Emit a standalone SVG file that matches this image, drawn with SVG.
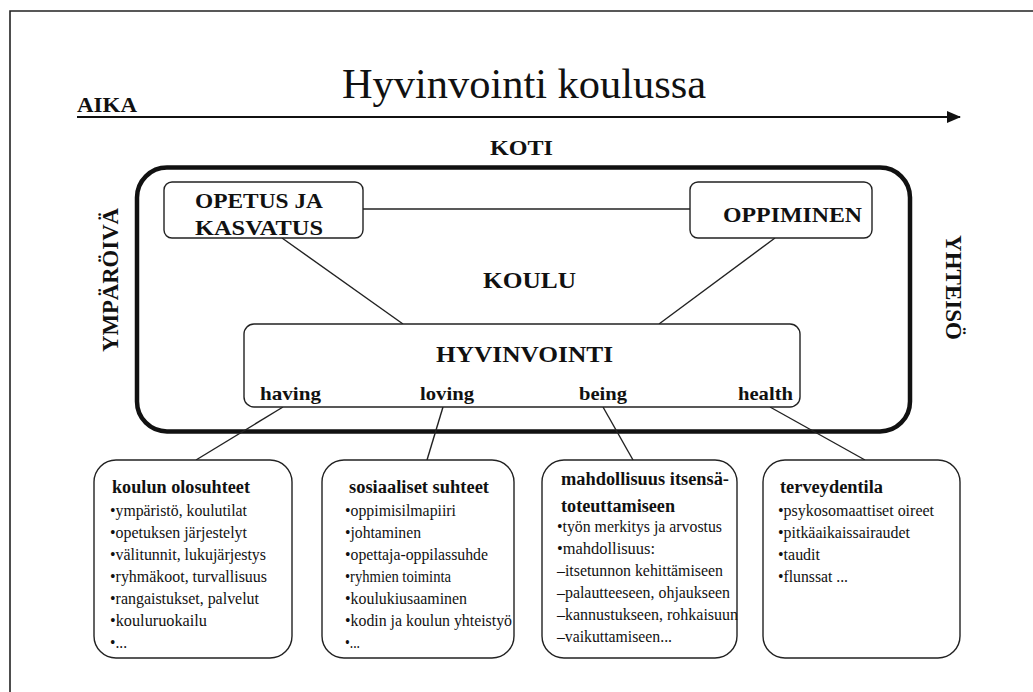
<svg xmlns="http://www.w3.org/2000/svg" width="1033" height="692" viewBox="0 0 1033 692">
<style>
  .b{font-family:"Liberation Serif","Times New Roman",serif;font-weight:bold;fill:#111}
  .r{font-family:"Liberation Serif","Times New Roman",serif;fill:#111}
  .box{fill:#fff;stroke:#222;stroke-width:1.4}
  .ln{stroke:#222;stroke-width:1.4;fill:none}
  .it{font-size:16px}
  .ti{font-size:18px}
</style>
<defs>
  <marker id="ah" markerWidth="14" markerHeight="12" refX="13" refY="6" orient="auto" markerUnits="userSpaceOnUse">
    <path d="M0,0 L14,6 L0,12 Z" fill="#111"/>
  </marker>
</defs>
<rect width="1033" height="692" fill="#fff"/>
<path d="M10,692 L10,11 L1033,11" fill="none" stroke="#222" stroke-width="1.6"/>

<g id="title">
  <text class="r" x="342" y="98" font-size="42" textLength="364" lengthAdjust="spacingAndGlyphs">Hyvinvointi koulussa</text>
</g>
<g id="aika">
  <text class="b" x="77" y="112" font-size="22" textLength="60" lengthAdjust="spacingAndGlyphs">AIKA</text>
  <line x1="77" y1="117" x2="960" y2="117" stroke="#111" stroke-width="2.2" marker-end="url(#ah)"/>
</g>
<g id="koti">
  <text class="b" x="490" y="155" font-size="22" textLength="63" lengthAdjust="spacingAndGlyphs">KOTI</text>
</g>
<g id="ymparoiva">
  <text class="b" transform="translate(118,352) rotate(-90)" x="0" y="0" font-size="24" textLength="144" lengthAdjust="spacingAndGlyphs">YMPÄRÖIVÄ</text>
</g>
<g id="yhteiso">
  <text class="b" transform="translate(946,235) rotate(90)" x="0" y="0" font-size="24" textLength="105" lengthAdjust="spacingAndGlyphs">YHTEISÖ</text>
</g>

<g id="koulu">
  <rect x="137" y="167.5" width="773" height="264" rx="30" fill="none" stroke="#111" stroke-width="4.5"/>
  <text class="b" x="483" y="288" font-size="24" textLength="93" lengthAdjust="spacingAndGlyphs">KOULU</text>
</g>

<g id="connectors">
  <line class="ln" x1="363" y1="209" x2="690" y2="209"/>
  <line class="ln" x1="282" y1="238" x2="403" y2="324"/>
  <line class="ln" x1="775" y1="238" x2="659" y2="324"/>
  <line class="ln" x1="283" y1="407" x2="196" y2="460"/>
  <line class="ln" x1="443" y1="407" x2="427" y2="460"/>
  <line class="ln" x1="603" y1="407" x2="633" y2="460"/>
  <line class="ln" x1="770" y1="407" x2="865" y2="460"/>
</g>

<g id="opetus">
  <rect class="box" x="164" y="182" width="199" height="56" rx="8"/>
  <text class="b" x="195" y="208" font-size="22" textLength="128" lengthAdjust="spacingAndGlyphs">OPETUS JA</text>
  <text class="b" x="195" y="235" font-size="22" textLength="128" lengthAdjust="spacingAndGlyphs">KASVATUS</text>
</g>
<g id="oppiminen">
  <rect class="box" x="690" y="182" width="182" height="56" rx="8"/>
  <text class="b" x="723" y="222" font-size="22" textLength="139" lengthAdjust="spacingAndGlyphs">OPPIMINEN</text>
</g>
<g id="hyvinvointi">
  <rect class="box" x="244" y="324" width="556" height="83" rx="10"/>
  <text class="b" x="436" y="362" font-size="24" textLength="177" lengthAdjust="spacingAndGlyphs">HYVINVOINTI</text>
  <text class="b" x="260" y="400" font-size="19" textLength="61" lengthAdjust="spacingAndGlyphs">having</text>
  <text class="b" x="420" y="400" font-size="19" textLength="54" lengthAdjust="spacingAndGlyphs">loving</text>
  <text class="b" x="579" y="400" font-size="19" textLength="48" lengthAdjust="spacingAndGlyphs">being</text>
  <text class="b" x="738" y="400" font-size="19" textLength="55" lengthAdjust="spacingAndGlyphs">health</text>
</g>

<g id="box-having">
  <rect class="box" x="94" y="460" width="198" height="198" rx="22"/>
  <text class="b ti" x="112" y="493" textLength="138" lengthAdjust="spacingAndGlyphs">koulun olosuhteet</text>
  <text class="r it" x="110" y="516" textLength="137" lengthAdjust="spacingAndGlyphs">•ympäristö, koulutilat</text>
  <text class="r it" x="110" y="538" textLength="137" lengthAdjust="spacingAndGlyphs">•opetuksen järjestelyt</text>
  <text class="r it" x="110" y="560" textLength="156" lengthAdjust="spacingAndGlyphs">•välitunnit, lukujärjestys</text>
  <text class="r it" x="110" y="582" textLength="157" lengthAdjust="spacingAndGlyphs">•ryhmäkoot, turvallisuus</text>
  <text class="r it" x="110" y="604" textLength="149" lengthAdjust="spacingAndGlyphs">•rangaistukset, palvelut</text>
  <text class="r it" x="110" y="626" textLength="97" lengthAdjust="spacingAndGlyphs">•kouluruokailu</text>
  <text class="r it" x="110" y="648" textLength="17" lengthAdjust="spacingAndGlyphs">•...</text>
</g>

<g id="box-loving">
  <rect class="box" x="322" y="460" width="192" height="198" rx="22"/>
  <text class="b ti" x="349" y="493" textLength="140" lengthAdjust="spacingAndGlyphs">sosiaaliset suhteet</text>
  <text class="r it" x="345" y="516" textLength="111" lengthAdjust="spacingAndGlyphs">•oppimisilmapiiri</text>
  <text class="r it" x="345" y="538" textLength="76" lengthAdjust="spacingAndGlyphs">•johtaminen</text>
  <text class="r it" x="345" y="560" textLength="143" lengthAdjust="spacingAndGlyphs">•opettaja-oppilassuhde</text>
  <text class="r it" x="345" y="582" textLength="106" lengthAdjust="spacingAndGlyphs">•ryhmien toiminta</text>
  <text class="r it" x="345" y="604" textLength="122" lengthAdjust="spacingAndGlyphs">•koulukiusaaminen</text>
  <text class="r it" x="345" y="626" textLength="167" lengthAdjust="spacingAndGlyphs">•kodin ja koulun yhteistyö</text>
  <text class="r it" x="345" y="648" textLength="15" lengthAdjust="spacingAndGlyphs">•...</text>
</g>

<g id="box-being">
  <rect class="box" x="542" y="460" width="195" height="198" rx="22"/>
  <text class="b ti" x="561" y="485" textLength="168" lengthAdjust="spacingAndGlyphs">mahdollisuus itsensä-</text>
  <text class="b ti" x="561" y="512" textLength="114" lengthAdjust="spacingAndGlyphs">toteuttamiseen</text>
  <text class="r it" x="557" y="532" textLength="165" lengthAdjust="spacingAndGlyphs">•työn merkitys ja arvostus</text>
  <text class="r it" x="557" y="554" textLength="98" lengthAdjust="spacingAndGlyphs">•mahdollisuus:</text>
  <text class="r it" x="557" y="576" textLength="166" lengthAdjust="spacingAndGlyphs">–itsetunnon kehittämiseen</text>
  <text class="r it" x="557" y="598" textLength="173" lengthAdjust="spacingAndGlyphs">–palautteeseen, ohjaukseen</text>
  <text class="r it" x="557" y="620" textLength="181" lengthAdjust="spacingAndGlyphs">–kannustukseen, rohkaisuun</text>
  <text class="r it" x="557" y="642" textLength="115" lengthAdjust="spacingAndGlyphs">–vaikuttamiseen...</text>
</g>

<g id="box-health">
  <rect class="box" x="763" y="460" width="197" height="198" rx="22"/>
  <text class="b ti" x="780" y="493" textLength="103" lengthAdjust="spacingAndGlyphs">terveydentila</text>
  <text class="r it" x="778" y="516" textLength="156" lengthAdjust="spacingAndGlyphs">•psykosomaattiset oireet</text>
  <text class="r it" x="778" y="538" textLength="132" lengthAdjust="spacingAndGlyphs">•pitkäaikaissairaudet</text>
  <text class="r it" x="778" y="560" textLength="42" lengthAdjust="spacingAndGlyphs">•taudit</text>
  <text class="r it" x="778" y="582" textLength="70" lengthAdjust="spacingAndGlyphs">•flunssat ...</text>
</g>
</svg>
